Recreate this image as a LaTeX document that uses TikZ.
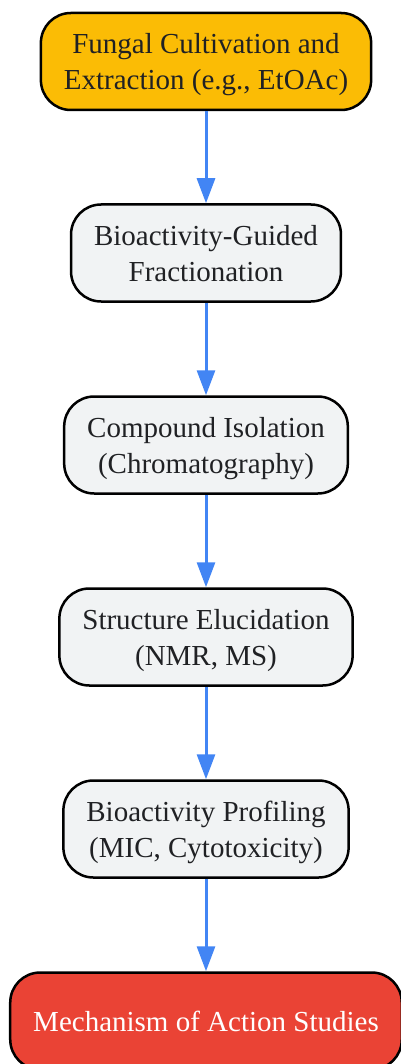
\documentclass[tikz,border=0pt]{standalone}
\usepackage{fontspec}
\setmainfont{Liberation Serif}
\usetikzlibrary{arrows.meta}

\definecolor{stepgray}{HTML}{F1F3F4}
\definecolor{stepyellow}{HTML}{FBBC05}
\definecolor{stepred}{HTML}{EA4335}
\definecolor{steptext}{HTML}{202124}
\definecolor{flowblue}{HTML}{4285F4}

\newcommand{\steplines}[1]{\raisebox{-3pt}[\height][\depth]{\begin{tabular}{@{}c@{}}#1\end{tabular}}}

\tikzset{
    stepbox/.style={draw=black, line width=2.5pt, rounded corners=30pt, fill=stepgray,
        text=steptext, inner xsep=23pt, minimum height=97pt,
        font=\fontsize{29}{36}\selectfont},
    flow/.style={draw=flowblue, line width=3pt, -{Triangle[length=25pt,width=18pt]}},
}

\begin{document}
\begin{tikzpicture}[x=1pt, y=-1pt]
            \useasboundingbox (0,0) rectangle (401,1064);

            \node[stepbox, fill=stepyellow] (cultivation) at (206, 61.5) {\steplines{Fungal Cultivation and\\Extraction (e.g., EtOAc)}};
            \node[stepbox] (fractionation) at (206, 253) {\steplines{Bioactivity-Guided\\Fractionation}};
            \node[stepbox] (isolation) at (206, 445) {\steplines{Compound Isolation\\(Chromatography)}};
            \node[stepbox] (elucidation) at (206, 637) {\steplines{Structure Elucidation\\(NMR, MS)}};
            \node[stepbox] (profiling) at (206, 829) {\steplines{Bioactivity Profiling\\(MIC, Cytotoxicity)}};
            \node[stepbox, fill=stepred, text=white] (mechanism) at (206, 1021) {\steplines{Mechanism of Action Studies}};

            \draw[flow] (cultivation) -- (fractionation);
            \draw[flow] (fractionation) -- (isolation);
            \draw[flow] (isolation) -- (elucidation);
            \draw[flow] (elucidation) -- (profiling);
            \draw[flow] (profiling) -- (mechanism);
        \end{tikzpicture}
\end{document}
